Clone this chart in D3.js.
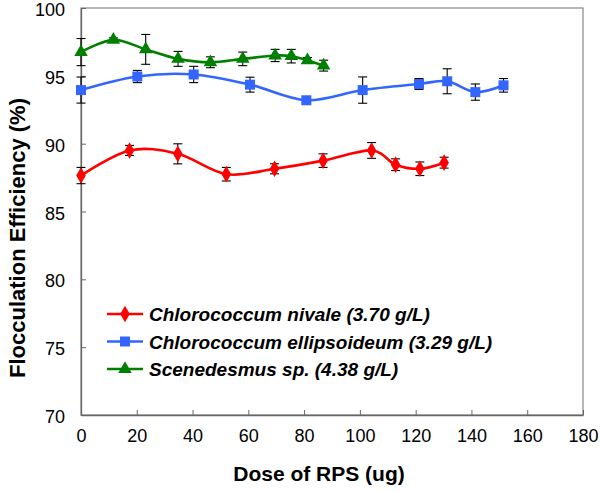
<!DOCTYPE html>
<html><head><meta charset="utf-8">
<script src="https://cdn.jsdelivr.net/npm/d3@7"></script>
<style>body{margin:0;background:#fff;} svg{display:block;font-family:Arial,"Liberation Sans",sans-serif;}</style>
</head><body>
<svg id="c" width="600" height="491"></svg>
<script>
// ---- data ----
const redX = [0, 17.4, 34.7, 52.1, 69.4, 86.8, 104.2, 112.8, 121.5, 130.2];
const redY = [87.65, 89.5, 89.25, 87.75, 88.15, 88.75, 89.5, 88.45, 88.15, 88.6];
const redErr = [0.6, 0.37, 0.74, 0.5, 0.37, 0.5, 0.58, 0.43, 0.5, 0.4];

const blueX = [0, 20.2, 40.4, 60.6, 80.8, 101, 121.2, 131.3, 141.4, 151.5];
const blueY = [93.95, 94.95, 95.1, 94.35, 93.2, 93.95, 94.4, 94.6, 93.8, 94.3];
const blueErr = [0.96, 0.45, 0.6, 0.55, 0.15, 0.97, 0.4, 0.92, 0.6, 0.5];

const greenX = [0, 11.6, 23.2, 34.8, 46.4, 58, 69.6, 75.4, 81.2, 87];
const greenY = [96.75, 97.65, 96.95, 96.25, 96.0, 96.25, 96.5, 96.45, 96.15, 95.75];
const greenErr = [1.0, 0.15, 1.1, 0.55, 0.4, 0.5, 0.45, 0.5, 0.2, 0.4];

const seriesNames = ["Chlorococcum nivale (3.70 g/L)", "Chlorococcum ellipsoideum (3.29 g/L)", "Scenedesmus sp. (4.38 g/L)"];
const xTicks = [0, 20, 40, 60, 80, 100, 120, 140, 160, 180];
const yTicks = [70, 75, 80, 85, 90, 95, 100];
const xTitle = "Dose of RPS (ug)";
const yTitle = "Flocculation Efficiency (%)";

// ---- chart ----
const svg = d3.select("#c");
const L = 81, R = 583, T = 8, B = 415;
const x = d3.scaleLinear().domain([0, 180]).range([L, R]);
const y = d3.scaleLinear().domain([70, 100]).range([B, T]);

// frame
svg.append("rect").attr("x", L).attr("y", T).attr("width", R - L).attr("height", B - T)
  .attr("fill", "none").attr("stroke", "#888").attr("stroke-width", 1.2);

// axes
const xAxis = d3.axisBottom(x).tickValues(xTicks).tickSizeInner(-5).tickSizeOuter(0).tickPadding(14);
const gx = svg.append("g").attr("transform", `translate(0,${B})`).call(xAxis);
gx.select(".domain").attr("stroke", "#666").attr("stroke-width", 1.3);
gx.selectAll(".tick line").attr("stroke", "#666");
gx.selectAll("text").attr("font-size", 18).attr("fill", "#000").attr("font-family", "Arial, Liberation Sans, sans-serif");

const yAxis = d3.axisLeft(y).tickValues(yTicks).tickSizeInner(-5).tickSizeOuter(0).tickPadding(16);
const gy = svg.append("g").attr("transform", `translate(${L},0)`).call(yAxis);
gy.select(".domain").attr("stroke", "#666").attr("stroke-width", 1.3);
gy.selectAll(".tick line").attr("stroke", "#666");
gy.selectAll("text").attr("font-size", 18).attr("fill", "#000").attr("dy", "0.42em").attr("font-family", "Arial, Liberation Sans, sans-serif");

svg.append("text").attr("x", 319).attr("y", 481).attr("text-anchor", "middle")
  .attr("font-size", 21).attr("font-weight", "bold").text(xTitle);
svg.append("text").attr("transform", `translate(25,238) rotate(-90)`).attr("text-anchor", "middle")
  .attr("font-size", 22).attr("font-weight", "bold").text(yTitle);

const series = [
  {xs: redX, ys: redY, es: redErr, color: "#FF0000", sym: d3.symbolDiamond, size: 80, name: seriesNames[0]},
  {xs: blueX, ys: blueY, es: blueErr, color: "#3366FF", sym: d3.symbolSquare, size: 100, name: seriesNames[1]},
  {xs: greenX, ys: greenY, es: greenErr, color: "#008000", sym: d3.symbolTriangle, size: 80, name: seriesNames[2]},
];

const line = d3.line().x(d => x(d[0])).y(d => y(d[1])).curve(d3.curveCardinal.tension(0));

series.forEach(s => {
  const pts = s.xs.map((v, i) => [v, s.ys[i], s.es[i]]);
  const g = svg.append("g");
  g.append("path").datum(pts).attr("d", line).attr("fill", "none").attr("stroke", s.color).attr("stroke-width", 2.6);
  // error bars
  const eb = g.selectAll("g.eb").data(pts).enter().append("g").attr("stroke", "#000").attr("stroke-width", 1.1);
  eb.append("line").attr("x1", d => x(d[0])).attr("x2", d => x(d[0])).attr("y1", d => y(d[1] - d[2])).attr("y2", d => y(d[1] + d[2]));
  eb.append("line").attr("x1", d => x(d[0]) - 4.5).attr("x2", d => x(d[0]) + 4.5).attr("y1", d => y(d[1] - d[2])).attr("y2", d => y(d[1] - d[2]));
  eb.append("line").attr("x1", d => x(d[0]) - 4.5).attr("x2", d => x(d[0]) + 4.5).attr("y1", d => y(d[1] + d[2])).attr("y2", d => y(d[1] + d[2]));
  g.selectAll("path.m").data(pts).enter().append("path")
    .attr("d", d3.symbol().type(s.sym).size(s.size))
    .attr("transform", d => `translate(${x(d[0])},${y(d[1])})`)
    .attr("fill", s.color);
});

// legend
const leg = svg.append("g");
series.forEach((s, i) => {
  const ly = 314 + i * 27.5;
  leg.append("line").attr("x1", 107).attr("x2", 143).attr("y1", ly).attr("y2", ly).attr("stroke", s.color).attr("stroke-width", 2.6);
  leg.append("path").attr("d", d3.symbol().type(s.sym).size(s.size)).attr("transform", `translate(125,${ly})`).attr("fill", s.color);
  leg.append("text").attr("x", 149).attr("y", ly + 7).attr("font-size", 19).attr("font-weight", "bold").attr("font-style", "italic").text(s.name);
});
</script>
</body></html>
